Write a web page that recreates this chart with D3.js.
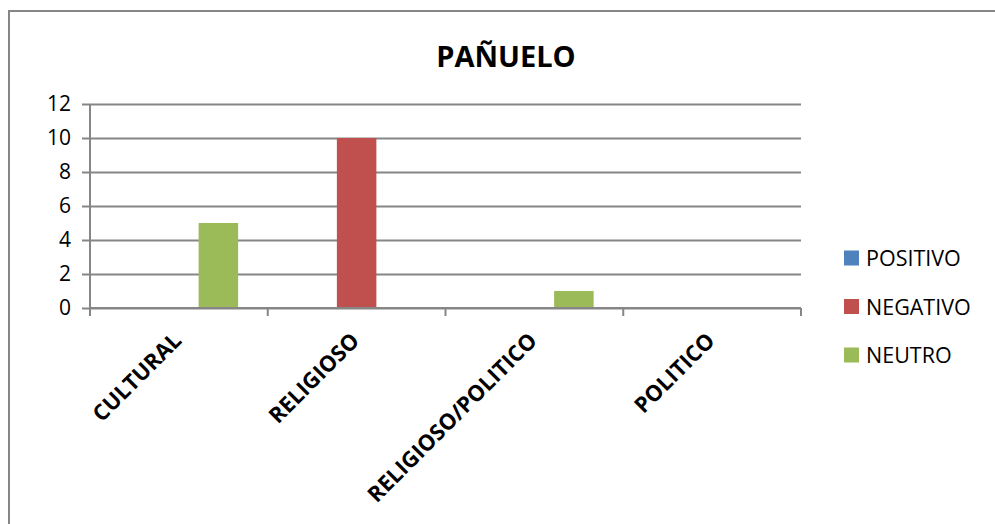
<!DOCTYPE html>
<html>
<head>
<meta charset="utf-8">
<script src="https://cdn.jsdelivr.net/npm/d3@7"></script>
<style>
  body { margin: 0; background: #fff; }
  text { font-family: "Open Sans", sans-serif; fill: #000; }
</style>
</head>
<body>
<div id="wrapper"></div>
<script>
const categories = ["CULTURAL", "RELIGIOSO", "RELIGIOSO/POLITICO", "POLITICO"]
const seriesNames = ["POSITIVO", "NEGATIVO", "NEUTRO"]
const positivo = [0, 0, 0, 0]
const negativo = [0, 10, 0, 0]
const neutro = [5, 0, 1, 0]
const yTicks = [0, 2, 4, 6, 8, 10, 12]
const colors = ["#4F81BD", "#C0504D", "#9BBB59"]

const seriesValues = [positivo, negativo, neutro]
const dataset = categories.map((c, i) => ({
  category: c,
  values: seriesNames.map((s, j) => ({ series: s, value: seriesValues[j][i] }))
}))

const dimensions = {
  width: 995,
  height: 524,
  margin: { top: 104, right: 194, bottom: 216, left: 90 },
}
dimensions.boundedWidth = dimensions.width - dimensions.margin.left - dimensions.margin.right
dimensions.boundedHeight = dimensions.height - dimensions.margin.top - dimensions.margin.bottom

const svg = d3.select("#wrapper")
  .append("svg")
  .attr("width", dimensions.width)
  .attr("height", dimensions.height)

// chart frame
svg.append("rect")
  .attr("x", 9)
  .attr("y", 11)
  .attr("width", 1100)
  .attr("height", 700)
  .attr("fill", "none")
  .attr("stroke", "#868686")
  .attr("stroke-width", 2)

svg.append("text")
  .attr("x", 506)
  .attr("y", 67)
  .attr("text-anchor", "middle")
  .style("font-size", "29px")
  .style("font-weight", "bold")
  .text("PAÑUELO")

const bounds = svg.append("g")
  .attr("transform", `translate(${dimensions.margin.left}, ${dimensions.margin.top})`)

const xScale = d3.scaleBand()
  .domain(categories)
  .range([0, dimensions.boundedWidth])

const groupPad = xScale.bandwidth() / 6
const x1Scale = d3.scaleBand()
  .domain(seriesNames)
  .range([groupPad, xScale.bandwidth() - groupPad])

const yScale = d3.scaleLinear()
  .domain([0, 12])
  .range([dimensions.boundedHeight, 0])

// gridlines + y axis
const yAxis = bounds.append("g")
  .call(d3.axisLeft(yScale)
    .tickValues(yTicks)
    .tickSize(-dimensions.boundedWidth)
    .tickSizeOuter(0)
    .tickPadding(19))
yAxis.select(".domain").remove()
yAxis.selectAll(".tick line")
  .attr("x1", -8)
  .attr("stroke", "#868686")
  .attr("stroke-width", 2)
yAxis.selectAll(".tick text")
  .style("font-size", "21px")
  .style("font-family", "'Open Sans', sans-serif")

bounds.append("line")
  .attr("x1", 0).attr("x2", 0)
  .attr("y1", 0).attr("y2", dimensions.boundedHeight + 8)
  .attr("stroke", "#868686")
  .attr("stroke-width", 2)

// bars
const groups = bounds.append("g")
  .selectAll("g")
  .data(dataset)
  .join("g")
  .attr("transform", d => `translate(${xScale(d.category)}, 0)`)

groups.selectAll("rect")
  .data(d => d.values.filter(v => v.value > 0))
  .join("rect")
  .attr("x", d => x1Scale(d.series))
  .attr("y", d => yScale(d.value))
  .attr("width", x1Scale.bandwidth())
  .attr("height", d => yScale(0) - yScale(d.value))
  .attr("fill", d => colors[seriesNames.indexOf(d.series)])

// x axis
const xAxis = bounds.append("g")
  .attr("transform", `translate(0, ${dimensions.boundedHeight})`)
const edges = d3.range(categories.length + 1).map(i => i * xScale.step())
xAxis.append("line")
  .attr("x1", 0).attr("x2", dimensions.boundedWidth)
  .attr("stroke", "#868686")
  .attr("stroke-width", 2)
xAxis.selectAll(".edge")
  .data(edges)
  .join("line")
  .attr("class", "edge")
  .attr("x1", d => d).attr("x2", d => d)
  .attr("y1", 0).attr("y2", 8)
  .attr("stroke", "#868686")
  .attr("stroke-width", 2)

xAxis.selectAll(".label")
  .data(categories)
  .join("text")
  .attr("class", "label")
  .attr("transform", d => `translate(${xScale(d) + xScale.bandwidth() / 2 + 4}, 34) rotate(-45)`)
  .attr("text-anchor", "end")
  .style("font-size", "22px")
  .style("font-weight", "bold")
  .text(d => d)

// legend
const legend = svg.append("g")
  .attr("transform", "translate(844, 258)")
const items = legend.selectAll("g")
  .data(seriesNames)
  .join("g")
  .attr("transform", (d, i) => `translate(0, ${i * 48.5})`)
items.append("rect")
  .attr("x", 0)
  .attr("y", -7.5)
  .attr("width", 15)
  .attr("height", 15)
  .attr("fill", (d, i) => colors[i])
items.append("text")
  .attr("x", 22)
  .attr("y", 8)
  .style("font-size", "21.5px")
  .text(d => d)
</script>
</body>
</html>
